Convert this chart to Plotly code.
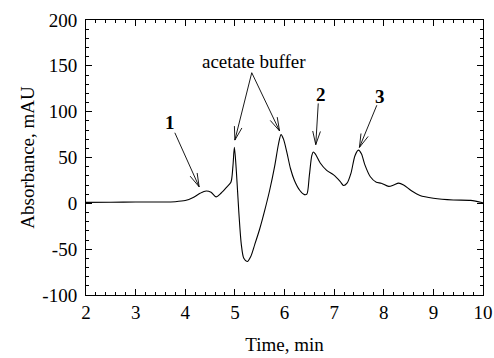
import math
import plotly.graph_objects as go

# ---- data ----
time_min = [2.0, 2.5, 3.0, 3.5, 3.8, 4.0, 4.15, 4.3, 4.42, 4.52, 4.62, 4.72, 4.84, 4.92,
            4.96, 4.99, 5.03, 5.08, 5.13, 5.18, 5.25, 5.32, 5.40, 5.50, 5.60, 5.70, 5.80,
            5.88, 5.93, 5.98, 6.05, 6.12, 6.20, 6.31, 6.40, 6.45, 6.50, 6.55, 6.58, 6.62,
            6.72, 6.85, 6.99, 7.12, 7.19, 7.26, 7.34, 7.42, 7.49, 7.55, 7.62, 7.73, 7.85,
            7.95, 8.10, 8.20, 8.30, 8.40, 8.55, 8.73, 9.00, 9.40, 9.75, 10.0]
absorbance = [1.0, 1.2, 1.5, 1.5, 1.8, 3.0, 6.0, 11.0, 13.5, 12.0, 7.0, 11.0, 18.0, 23.0,
              40.0, 61.0, 35.0, -10.0, -45.0, -60.0, -63.5, -58.0, -45.0, -28.0, -8.0, 14.0, 40.0,
              65.0, 75.0, 70.0, 55.0, 38.0, 25.0, 14.0, 9.5, 10.0, 30.0, 52.0, 56.0, 54.0,
              44.0, 36.0, 31.0, 24.0, 19.5, 22.0, 33.0, 52.0, 58.0, 54.0, 42.0, 29.0, 23.0,
              22.0, 18.5, 20.0, 22.0, 20.0, 14.0, 8.5, 5.5, 3.6, 3.2, 0.7]

x_tick_vals = [2, 3, 4, 5, 6, 7, 8, 9, 10]
x_tick_text = ["2", "3", "4", "5", "6", "7", "8", "9", "10"]
y_tick_vals = [-100, -50, 0, 50, 100, 150, 200]
y_tick_text = ["-100", "-50", "0", "50", "100", "150", "200"]

# annotation texts and arrows (tail -> tip), in data units
label_texts = ["acetate buffer", "1", "2", "3"]
label_x = [5.39, 3.69, 6.73, 7.92]
label_y = [155, 88, 118.5, 117]
label_bold = [False, True, True, True]
arrow_tail_x = [5.34, 5.34, 3.79, 6.68, 7.86]
arrow_tail_y = [142.5, 142.5, 77, 109, 107]
arrow_tip_x = [5.00, 5.90, 4.28, 6.63, 7.51]
arrow_tip_y = [69, 79, 18, 64, 61]

# ---- layout geometry ----
W, H = 494, 358
ML, MR, MT, MB = 86, 11, 20, 63
X_RANGE = [2, 10]
Y_RANGE = [-100, 200]
PW, PH = W - ML - MR, H - MT - MB
sx = PW / (X_RANGE[1] - X_RANGE[0])
sy = PH / (Y_RANGE[1] - Y_RANGE[0])
FONT = "Liberation Serif, Times New Roman, serif"

fig = go.Figure()
fig.add_trace(go.Scatter(x=time_min, y=absorbance, mode="lines",
                         line=dict(color="black", width=1.1, shape="spline", smoothing=0.8),
                         showlegend=False, hoverinfo="skip"))

shapes = []
HEAD_LEN, HEAD_ANG = 14, math.radians(16)
for tx, ty, hx, hy in zip(arrow_tail_x, arrow_tail_y, arrow_tip_x, arrow_tip_y):
    shapes.append(dict(type="line", xref="x", yref="y", x0=tx, y0=ty, x1=hx, y1=hy,
                       line=dict(color="black", width=0.9)))
    dx, dy = (hx - tx) * sx, (hy - ty) * sy
    ang = math.atan2(dy, dx)
    for s in (-1, 1):
        a = ang + math.pi + s * HEAD_ANG
        ex = hx + HEAD_LEN * math.cos(a) / sx
        ey = hy + HEAD_LEN * math.sin(a) / sy
        shapes.append(dict(type="line", xref="x", yref="y", x0=hx, y0=hy, x1=ex, y1=ey,
                           line=dict(color="black", width=0.9)))

annotations = []
for txt, x, y, b in zip(label_texts, label_x, label_y, label_bold):
    annotations.append(dict(x=x, y=y, xref="x", yref="y", showarrow=False,
                            text=f"<b>{txt}</b>" if b else txt,
                            font=dict(family=FONT, size=19, color="black"),
                            xanchor="center", yanchor="middle"))

axis_common = dict(showline=True, linecolor="black", linewidth=1, mirror="allticks",
                   ticks="inside", ticklen=6, tickwidth=1, tickcolor="black",
                   showgrid=False, zeroline=False, automargin=False,
                   tickfont=dict(family=FONT, size=19, color="black"),
                   title_font=dict(family=FONT, size=19, color="black"))

fig.update_layout(
    width=W, height=H,
    margin=dict(l=ML, r=MR, t=MT, b=MB, pad=0),
    paper_bgcolor="white", plot_bgcolor="white",
    shapes=shapes, annotations=annotations,
    xaxis=dict(range=X_RANGE, tickvals=x_tick_vals, ticktext=x_tick_text,
               title_text="Time, min", title_standoff=15, ticklabelstandoff=0,
               minor=dict(dtick=0.2, ticks="inside", ticklen=3, tickcolor="black", showgrid=False),
               **axis_common),
    yaxis=dict(range=Y_RANGE, tickvals=y_tick_vals, ticktext=y_tick_text,
               title_text="Absorbance, mAU", title_standoff=2, ticklabelstandoff=4,
               minor=dict(dtick=10, ticks="inside", ticklen=3, tickcolor="black", showgrid=False),
               **axis_common),
)

fig.write_html("out.html")
